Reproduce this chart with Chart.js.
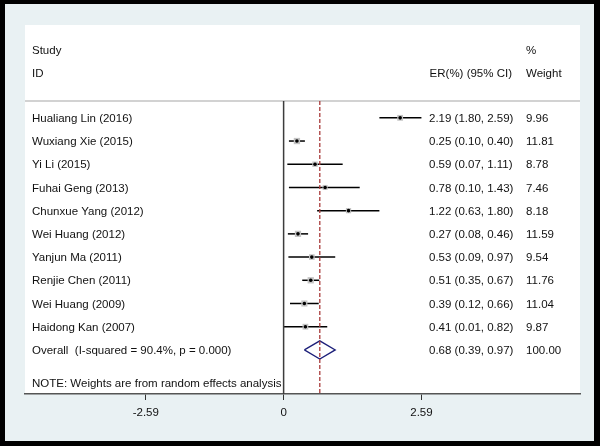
<!DOCTYPE html>
<html>
<head>
<meta charset="utf-8">
<title>Forest plot</title>
<script src="https://cdn.jsdelivr.net/npm/chart.js@4.4.1/dist/chart.umd.min.js"></script>
<style>
  html, body { margin: 0; padding: 0; background: #000; }
  #wrap { width: 600px; height: 446px; position: relative; }
</style>
</head>
<body>
<div id="wrap"><canvas id="forestChart"></canvas></div>
<script>
const studies = [
  "Hualiang Lin (2016)",
  "Wuxiang Xie (2015)",
  "Yi Li (2015)",
  "Fuhai Geng (2013)",
  "Chunxue Yang (2012)",
  "Wei Huang (2012)",
  "Yanjun Ma (2011)",
  "Renjie Chen (2011)",
  "Wei Huang (2009)",
  "Haidong Kan (2007)",
];
const er = [2.19, 0.25, 0.59, 0.78, 1.22, 0.27, 0.53, 0.51, 0.39, 0.41];
const lower = [1.8, 0.1, 0.07, 0.1, 0.63, 0.08, 0.09, 0.35, 0.12, 0.01];
const upper = [2.59, 0.4, 1.11, 1.43, 1.8, 0.46, 0.97, 0.67, 0.66, 0.82];
const weights = [9.96, 11.81, 8.78, 7.46, 8.18, 11.59, 9.54, 11.76, 11.04, 9.87];

const overallEr = 0.68;
const overallLower = 0.39;
const overallUpper = 0.97;
const overallWeight = 100.0;
const iSquared = 90.4;
const pValue = 0.0;

const tickValues = [-2.59, 0, 2.59];

const FONT = '"Liberation Sans", Arial, sans-serif';
const overallRow = studies.length;
const fmt = (v) => v.toFixed(2);

// background: black frame, pale panel, white plot region
const backgroundPlugin = {
  id: "stataBackground",
  beforeDraw(chart) {
    const { ctx, chartArea } = chart;
    ctx.save();
    ctx.fillStyle = "#000000";
    ctx.fillRect(0, 0, chart.width, chart.height);
    ctx.fillStyle = "#e9f1f3";
    ctx.fillRect(5, 4, 589, 437);
    ctx.fillStyle = "#ffffff";
    ctx.fillRect(
      chartArea.left,
      chartArea.top,
      chartArea.right - chartArea.left,
      chartArea.bottom - chartArea.top
    );
    ctx.restore();
  },
  beforeDatasetsDraw(chart) {
    const { ctx, chartArea } = chart;
    const y = chart.scales.y.getPixelForValue(-0.73);
    ctx.save();
    ctx.strokeStyle = "#d2d2d2";
    ctx.lineWidth = 2;
    ctx.beginPath();
    ctx.moveTo(chartArea.left, y);
    ctx.lineTo(chartArea.right, y);
    ctx.stroke();
    ctx.restore();
  },
};

// study labels, estimates and weights
const textPlugin = {
  id: "forestText",
  afterDatasetsDraw(chart) {
    const { ctx } = chart;
    const yScale = chart.scales.y;
    const rowY = (v) => yScale.getPixelForValue(v) + 1;
    const labelX = 32;
    const ciX = 429;
    const ciRight = 512;
    const weightX = 526;

    ctx.save();
    ctx.font = `11.5px ${FONT}`;
    ctx.fillStyle = "#111111";
    ctx.textBaseline = "middle";

    ctx.textAlign = "left";
    ctx.fillText("Study", labelX, rowY(-2.93));
    ctx.fillText("ID", labelX, rowY(-1.94));
    ctx.fillText("%", weightX, rowY(-2.93));
    ctx.fillText("Weight", weightX, rowY(-1.94));
    ctx.textAlign = "right";
    ctx.fillText("ER(%) (95% CI)", ciRight, rowY(-1.94));

    ctx.textAlign = "left";
    studies.forEach((name, i) => {
      const y = rowY(i);
      ctx.fillText(name, labelX, y);
      ctx.fillText(`${fmt(er[i])} (${fmt(lower[i])}, ${fmt(upper[i])})`, ciX, y);
      ctx.fillText(fmt(weights[i]), weightX, y);
    });

    const oy = rowY(overallRow);
    ctx.fillText(
      `Overall  (I-squared = ${iSquared.toFixed(1)}%, p = ${pValue.toFixed(3)})`,
      labelX,
      oy
    );
    ctx.fillText(`${fmt(overallEr)} (${fmt(overallLower)}, ${fmt(overallUpper)})`, ciX, oy);
    ctx.fillText(fmt(overallWeight), weightX, oy);

    ctx.fillText("NOTE: Weights are from random effects analysis", labelX, rowY(11.42));
    ctx.restore();
  },
};

const ciDatasets = studies.map((name, i) => ({
  label: name,
  data: [
    { x: lower[i], y: i },
    { x: upper[i], y: i },
  ],
  showLine: true,
  borderColor: "#000000",
  borderWidth: 1.5,
  pointRadius: 0,
  order: 5,
}));

const datasets = [
  {
    label: "zero",
    data: [
      { x: 0, y: -0.73 },
      { x: 0, y: 11.9 },
    ],
    showLine: true,
    borderColor: "#3c3c3c",
    borderWidth: 1.5,
    pointRadius: 0,
    order: 6,
  },
  ...ciDatasets,
  {
    label: "weight boxes",
    data: er.map((v, i) => ({ x: v, y: i })),
    pointStyle: "rect",
    pointRadius: (c) => 1.3 * Math.sqrt(weights[c.dataIndex]),
    backgroundColor: "#c4c4c4",
    borderWidth: 0,
    order: 4,
  },
  {
    label: "estimates",
    data: er.map((v, i) => ({ x: v, y: i })),
    pointStyle: "circle",
    pointRadius: 1.8,
    backgroundColor: "#000000",
    borderWidth: 0,
    order: 3,
  },
  {
    label: "overall",
    data: [
      { x: overallLower, y: overallRow },
      { x: overallEr, y: overallRow - 0.39 },
      { x: overallUpper, y: overallRow },
      { x: overallEr, y: overallRow + 0.39 },
      { x: overallLower, y: overallRow },
    ],
    showLine: true,
    borderColor: "#1c1f7a",
    borderWidth: 1.3,
    pointRadius: 0,
    order: 2,
  },
  {
    label: "overall effect",
    data: [
      { x: overallEr, y: -0.73 },
      { x: overallEr, y: 11.9 },
    ],
    showLine: true,
    borderColor: "#a83a3a",
    borderWidth: 1.3,
    borderDash: [4, 2],
    pointRadius: 0,
    order: 1,
  },
];

const forestCtx = document.getElementById("forestChart").getContext("2d");
const forestChart = new Chart(forestCtx, {
  type: "scatter",
  data: { datasets },
  options: {
    responsive: true,
    maintainAspectRatio: false,
    animation: false,
    layout: {
      padding: { left: 25, right: 20, top: 25, bottom: 0 },
    },
    scales: {
      x: {
        type: "linear",
        position: "bottom",
        min: -4.86,
        max: 5.57,
        afterBuildTicks(scale) {
          scale.ticks = tickValues.map((v) => ({ value: v }));
        },
        afterFit(scale) {
          scale.height = 52;
        },
        ticks: {
          callback: (v) => (v === 0 ? "0" : v.toFixed(2)),
          font: { family: FONT, size: 11.5 },
          color: "#111111",
          padding: 6,
          maxRotation: 0,
        },
        grid: {
          drawOnChartArea: false,
          drawTicks: true,
          tickLength: 6,
          color: "#333333",
        },
        border: { display: true, color: "#555555", width: 1.5 },
      },
      y: {
        type: "linear",
        min: -4.0,
        max: 11.9,
        reverse: true,
        display: false,
      },
    },
    plugins: {
      legend: { display: false },
      tooltip: { enabled: false },
    },
  },
  plugins: [backgroundPlugin, textPlugin],
});
</script>
</body>
</html>
